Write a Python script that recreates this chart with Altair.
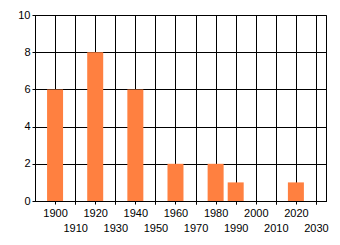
import altair as alt
import pandas as pd

years = [1900, 1920, 1940, 1960, 1980, 1990, 2020]
counts = [6, 8, 6, 2, 2, 1, 1]
even_ticks = [1900, 1920, 1940, 1960, 1980, 2000, 2020]
odd_ticks = [1910, 1930, 1950, 1970, 1990, 2010, 2030]
all_ticks = sorted(even_ticks + odd_ticks)
y_ticks = [0, 2, 4, 6, 8, 10]

df = pd.DataFrame({"year": years, "count": counts})

FONT = "Liberation Sans"
xscale = alt.Scale(domain=[1890, 2035], nice=False, zero=False, padding=0)
yscale = alt.Scale(domain=[0, 10], nice=False, padding=0)

base_axis = dict(
    orient="bottom", format="d", labelFont=FONT, labelFontSize=11,
    labelColor="black", domainColor="black", tickColor="black",
    tickSize=3, gridColor="black", gridOpacity=1, labelFlush=False,
    labelOverlap=False, title=None,
)

yaxis = alt.Axis(values=y_ticks, grid=True, title=None, labelFont=FONT,
                 labelFontSize=11, labelColor="black", domainColor="black",
                 tickColor="black", tickSize=3, gridColor="black",
                 gridOpacity=1, labelPadding=2, labelOverlap=False,
                 labelFlush=False)

bars = alt.Chart(df).mark_bar(color="#FF8040", size=16).encode(
    x=alt.X("year:Q", scale=xscale,
            axis=alt.Axis(values=all_ticks, labelExpr="datum.value % 20 == 0 ? datum.label : ''",
                          grid=True, labelPadding=3, **base_axis)),
    y=alt.Y("count:Q", scale=yscale, axis=yaxis),
)

odd = alt.Chart(df).mark_bar(opacity=0).encode(
    x=alt.X("year:Q", scale=xscale,
            axis=alt.Axis(values=odd_ticks, grid=False, labelPadding=18, **base_axis)),
    y=alt.Y("count:Q", scale=yscale, axis=yaxis),
)

chart = alt.layer(bars, odd).resolve_axis(x="independent").properties(
    width=291, height=186,
    autosize=alt.AutoSizeParams(type="none"),
    padding={"left": 35, "top": 15, "right": 14, "bottom": 44},
    background="white",
).configure_view(stroke="black", strokeWidth=1)

chart.save("out.html", embed_options={"renderer": "svg", "actions": False})
